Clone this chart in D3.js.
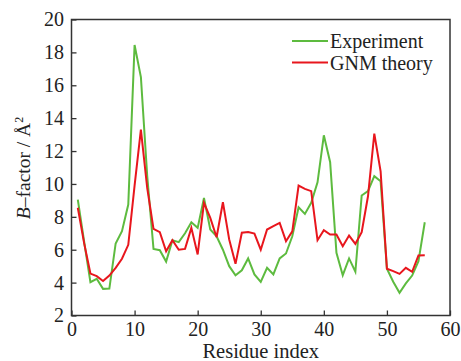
<!DOCTYPE html>
<html>
<head>
<meta charset="utf-8">
<script src="https://cdn.jsdelivr.net/npm/d3@7"></script>
<style>
  html, body { margin: 0; padding: 0; background: #fff; }
  svg { display: block; }
  text { font-family: "Liberation Serif", "DejaVu Serif", serif; fill: #222; }
</style>
</head>
<body>
<div id="chart"></div>
<script>
// Residue numbers and B-factors
const residues = d3.range(1, 57);
const experiment = [
  9.05, 6.5, 4.03, 4.23, 3.62, 3.64, 6.38, 7.13, 8.75, 18.45,
  16.5, 10.5, 6.05, 5.97, 5.28, 6.58, 6.46, 7.0, 7.67, 7.33,
  9.15, 7.23, 6.82, 6.0, 5.0, 4.45, 4.75, 5.47, 4.5, 4.05,
  4.9, 4.5, 5.47, 5.77, 6.82, 8.58, 8.18, 8.85, 10.1, 12.96,
  11.32, 5.81, 4.45, 5.47, 4.66, 9.3, 9.56, 10.47, 10.17, 4.84,
  4.05, 3.38, 3.95, 4.43, 5.3, 7.67
];
const gnmTheory = [
  8.55, 6.4, 4.55, 4.39, 4.1, 4.43, 4.9, 5.45, 6.3, 9.9,
  13.3, 9.76, 7.27, 7.07, 5.91, 6.58, 6.0, 6.05, 7.33, 5.71,
  8.85, 7.94, 6.76, 8.89, 6.62, 5.14, 7.03, 7.07, 6.98, 6.0,
  7.23, 7.43, 7.63, 6.52, 7.12, 9.9, 9.7, 9.56, 6.58, 7.19,
  6.92, 6.92, 6.21, 6.86, 6.36, 7.07, 9.25, 13.06, 10.77, 4.84,
  4.7, 4.53, 4.9, 4.66, 5.65, 5.67
];
const xTicks = [0, 10, 20, 30, 40, 50, 60];
const yTicks = [2, 4, 6, 8, 10, 12, 14, 16, 18, 20];
const seriesNames = ['Experiment', 'GNM theory'];
const seriesColors = ['#5dbb3f', '#e8161d'];

const W = 461, H = 361;
const margin = { top: 19.5, right: 11, bottom: 45.5, left: 71.5 };
const width = W - margin.left - margin.right;
const height = H - margin.top - margin.bottom;

const svg = d3.select('#chart')
  .append('svg')
  .attr('width', W)
  .attr('height', H);

const g = svg.append('g')
  .attr('transform', `translate(${margin.left},${margin.top})`);

const x = d3.scaleLinear().domain([0, 60]).range([0, width]);
const y = d3.scaleLinear().domain([2, 20]).range([height, 0]);

// Axes with inward ticks
const xAxis = g.append('g')
  .attr('transform', `translate(0,${height})`)
  .call(d3.axisBottom(x).tickValues(xTicks).tickSize(-5).tickPadding(6));
const yAxis = g.append('g')
  .call(d3.axisLeft(y).tickValues(yTicks).tickSize(-5).tickPadding(7.5));

[xAxis, yAxis].forEach(a => {
  a.select('.domain').remove();
  a.selectAll('line').attr('stroke', '#333').attr('stroke-width', 1.3);
  a.selectAll('text')
    .style('font-size', '20px')
    .style('font-family', '"Liberation Serif", serif')
    .attr('fill', '#222');
});

// Frame
g.append('rect')
  .attr('width', width)
  .attr('height', height)
  .attr('fill', 'none')
  .attr('stroke', '#333')
  .attr('stroke-width', 1.5);

// Lines
const line = d3.line()
  .x((d, i) => x(residues[i]))
  .y(d => y(d));

[experiment, gnmTheory].forEach((s, k) => {
  g.append('path')
    .datum(s)
    .attr('d', line)
    .attr('fill', 'none')
    .attr('stroke', seriesColors[k])
    .attr('stroke-width', 2)
    .attr('stroke-linejoin', 'miter');
});

// Legend
const legend = svg.append('g').attr('transform', 'translate(292,41)');
seriesNames.forEach((name, k) => {
  const row = legend.append('g').attr('transform', `translate(0,${k * 21.5})`);
  row.append('line')
    .attr('x1', 0).attr('x2', 36)
    .attr('stroke', seriesColors[k])
    .attr('stroke-width', 2);
  row.append('text')
    .attr('x', 38)
    .attr('y', 7)
    .style('font-size', '20px')
    .text(name);
});

// Axis titles
svg.append('text')
  .attr('x', margin.left + width / 2)
  .attr('y', 358)
  .attr('text-anchor', 'middle')
  .style('font-size', '20.5px')
  .text('Residue index');

const yTitle = svg.append('text')
  .attr('transform', `translate(30,168) rotate(-90)`)
  .attr('text-anchor', 'middle')
  .style('font-size', '19.5px');
yTitle.append('tspan').style('font-style', 'italic').text('B');
yTitle.append('tspan').text('–factor / Å');
yTitle.append('tspan').attr('dy', -7).style('font-size', '12px').text('2');
</script>
</body>
</html>
